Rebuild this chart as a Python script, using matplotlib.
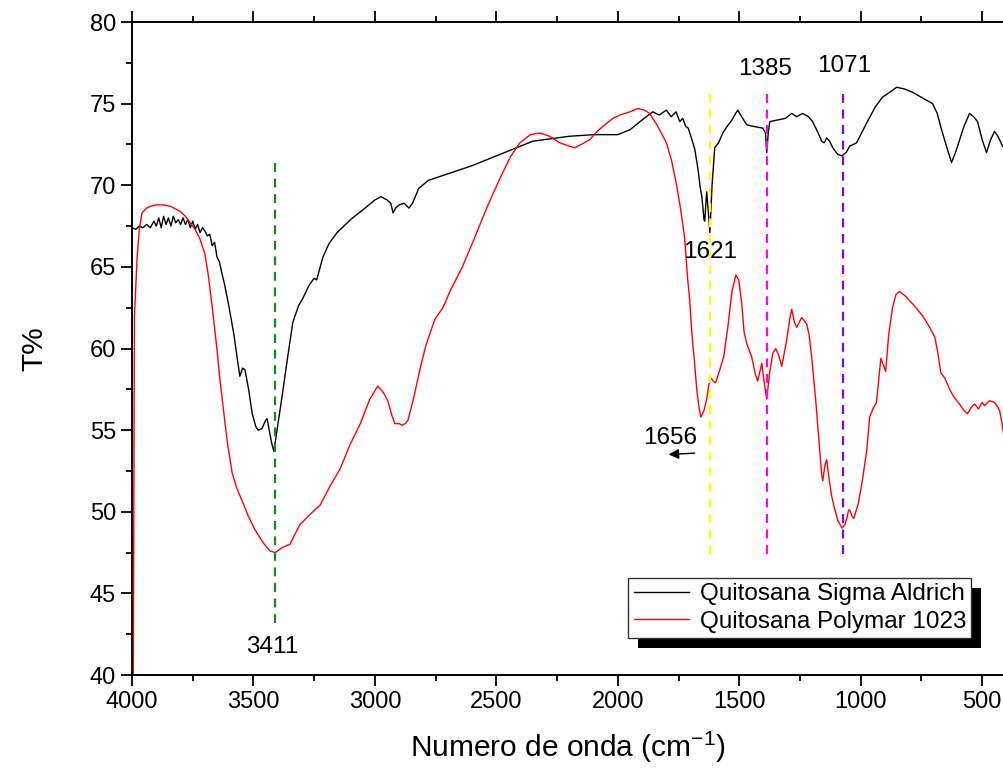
import matplotlib
matplotlib.use("Agg")
import matplotlib.pyplot as plt
from matplotlib.patches import Rectangle
from matplotlib.transforms import IdentityTransform
from matplotlib.ticker import MultipleLocator

plt.rcParams['font.family'] = ['Liberation Sans', 'DejaVu Sans']
plt.rcParams['mathtext.default'] = 'regular'

# Quitosana Sigma Aldrich (black)
sigma_x = [4000, 3985, 3970, 3955, 3940, 3925, 3910, 3900, 3890, 3880, 3870, 3860, 3850, 3840,
           3830, 3820, 3810, 3800, 3790, 3780, 3770, 3760, 3750, 3740, 3730, 3720, 3710, 3700,
           3690, 3680, 3670, 3660, 3650, 3640, 3630, 3620, 3600, 3580, 3565, 3556, 3545, 3535,
           3520, 3505, 3490, 3480, 3465, 3450, 3444, 3435, 3425, 3416, 3405, 3395, 3380, 3360,
           3338, 3315, 3296, 3270, 3250, 3240, 3225, 3214, 3190, 3156, 3100, 3049, 3000, 2975,
           2950, 2935, 2925, 2915, 2900, 2880, 2860, 2845, 2820, 2780, 2700, 2600, 2500, 2400,
           2350, 2300, 2200, 2100, 2000, 1950, 1900, 1856, 1830, 1800, 1780, 1760, 1745, 1733,
           1720, 1710, 1695, 1683, 1670, 1660, 1654, 1645, 1642, 1637, 1634, 1628, 1621, 1612,
           1601, 1585, 1568, 1550, 1530, 1515, 1506, 1490, 1469, 1440, 1403, 1392, 1387, 1380,
           1374, 1342, 1310, 1284, 1264, 1239, 1215, 1198, 1175, 1161, 1150, 1140, 1128, 1115,
           1095, 1078, 1060, 1045, 1030, 1017, 976, 940, 910, 880, 852, 820, 787, 740, 704, 685,
           667, 645, 626, 610, 601, 575, 552, 535, 519, 500, 482, 465, 449, 435, 416, 405]
sigma_y = [67.4, 67.3, 67.5, 67.4, 67.6, 67.4, 67.8, 67.5, 68.0, 67.4, 68.1, 67.6, 68.0, 67.5,
           68.1, 67.7, 67.9, 67.6, 68.0, 67.6, 67.9, 67.4, 67.8, 67.3, 67.6, 67.1, 67.4, 67.2,
           66.9, 67.0, 66.3, 66.5, 65.6, 65.3, 64.6, 64.0, 62.5, 60.8, 59.2, 58.3, 58.8, 58.7,
           57.5, 56.0, 55.2, 55.0, 55.1, 55.6, 55.7, 55.0, 54.2, 53.7, 54.8, 55.8, 57.3, 59.4,
           61.6, 62.6, 63.1, 63.9, 64.3, 64.2, 65.0, 65.6, 66.4, 67.1, 67.9, 68.5, 69.1, 69.3,
           69.1, 68.9, 68.3, 68.6, 68.8, 68.9, 68.6, 68.9, 69.8, 70.3, 70.7, 71.2, 71.8, 72.4,
           72.7, 72.8, 73.0, 73.1, 73.1, 73.4, 74.0, 74.5, 74.3, 74.6, 74.2, 74.5, 73.9, 74.1,
           73.6, 73.5, 72.8, 72.2, 71.0, 69.8, 69.3, 67.9, 67.8, 69.0, 69.6, 68.5, 67.1, 70.0,
           72.3, 72.6, 73.2, 73.6, 74.0, 74.4, 74.6, 74.2, 73.7, 73.6, 73.5, 73.2, 72.0, 73.3,
           73.9, 74.0, 74.1, 74.4, 74.2, 74.4, 74.2, 73.9, 73.2, 72.7, 72.6, 72.9, 72.7, 72.3,
           71.9, 71.8, 72.0, 72.4, 72.5, 72.6, 73.8, 74.8, 75.4, 75.7, 76.0, 75.9, 75.7, 75.3,
           75.0, 74.4, 73.4, 72.3, 71.4, 72.0, 72.4, 73.6, 74.4, 74.2, 73.9, 72.8, 72.0, 72.8,
           73.3, 73.0, 72.4, 72.3]

# Quitosana Polymar 1023 (red)
polymar_x = [3999, 3990, 3979, 3970, 3959, 3940, 3926, 3900, 3872, 3840, 3802, 3780, 3761, 3740,
             3720, 3700, 3687, 3667, 3650, 3638, 3620, 3609, 3588, 3570, 3556, 3520, 3494, 3460,
             3432, 3410, 3383, 3350, 3330, 3309, 3270, 3226, 3180, 3144, 3103, 3060, 3021, 2988,
             2965, 2947, 2930, 2918, 2900, 2889, 2875, 2864, 2840, 2815, 2790, 2753, 2720, 2691,
             2640, 2589, 2540, 2486, 2440, 2403, 2360, 2321, 2280, 2239, 2200, 2177, 2150, 2115,
             2085, 2054, 2020, 1992, 1950, 1918, 1890, 1869, 1835, 1800, 1780, 1759, 1740, 1725,
             1712, 1704, 1696, 1685, 1675, 1665, 1658, 1645, 1634, 1625, 1617, 1607, 1597, 1580,
             1564, 1547, 1530, 1514, 1502, 1490, 1480, 1469, 1449, 1435, 1424, 1415, 1407, 1398,
             1387, 1375, 1362, 1350, 1338, 1325, 1305, 1290, 1284, 1273, 1263, 1243, 1222, 1212,
             1202, 1185, 1169, 1160, 1156, 1148, 1140, 1130, 1120, 1111, 1095, 1077, 1065, 1057,
             1050, 1045, 1035, 1028, 1010, 992, 975, 963, 950, 935, 925, 917, 907, 897, 885, 869,
             855, 840, 815, 778, 745, 716, 695, 683, 670, 654, 634, 615, 593, 575, 560, 545, 531,
             515, 500, 490, 470, 449, 435, 428, 418, 410, 405]
polymar_y = [20.0, 62.0, 65.6, 67.3, 68.3, 68.6, 68.7, 68.8, 68.8, 68.7, 68.4, 68.1, 67.7, 67.3,
             66.7, 65.8, 64.6, 62.2, 59.9, 58.1, 55.8, 54.4, 52.4, 51.5, 51.0, 49.7, 48.9, 48.1,
             47.6, 47.5, 47.8, 48.0, 48.6, 49.2, 49.8, 50.4, 51.7, 52.6, 54.1, 55.4, 56.9, 57.7,
             57.3, 56.8, 55.9, 55.4, 55.4, 55.3, 55.4, 55.6, 57.0, 58.7, 60.2, 61.8, 62.5, 63.5,
             65.0, 66.8, 68.6, 70.4, 71.8, 72.6, 73.1, 73.2, 73.0, 72.6, 72.4, 72.3, 72.5, 72.8,
             73.3, 73.7, 74.1, 74.3, 74.5, 74.7, 74.6, 74.4, 73.6, 72.6, 71.6, 70.1, 68.4, 66.8,
             64.2, 63.0, 61.1, 59.3, 57.5, 56.3, 55.8, 56.2, 56.9, 57.8, 58.2, 58.0, 57.9, 58.7,
             59.5, 61.3, 63.5, 64.5, 64.2, 62.8, 61.0, 60.3, 59.5, 58.5, 58.0, 58.6, 59.1, 58.0,
             56.9, 58.5, 59.7, 60.0, 59.6, 58.9, 60.5, 62.0, 62.4, 61.6, 61.3, 61.9, 61.5, 60.8,
             59.5, 56.8, 53.8, 52.2, 51.9, 52.8, 53.2, 52.0, 51.0, 50.4, 49.5, 49.0, 49.2, 49.6,
             50.1, 50.1, 49.7, 49.6, 50.5, 52.0, 53.8, 55.8, 56.3, 56.7, 58.2, 59.4, 59.0, 58.6,
             60.8, 62.5, 63.3, 63.5, 63.2, 62.6, 62.0, 61.3, 60.7, 59.8, 58.5, 58.2, 57.5, 57.0,
             56.6, 56.2, 56.0, 56.4, 56.6, 56.3, 56.7, 56.5, 56.8, 56.7, 56.4, 56.2, 55.4, 54.6,
             54.0]

# marked bands
band_pos = [3411, 1621, 1385, 1071]
band_colors = ['#138a13', '#ffff00', '#ff00ff', '#8000ff']
band_top = [71.6, 76.0, 75.8, 75.8]
band_bottom = [43.2, 47.4, 47.4, 47.4]
band_labels = ['3411', '1621', '1385', '1071']
label_x = [3424, 1621, 1395, 1070]
label_y = [41.7, 65.9, 77.1, 77.3]

fig = plt.figure(figsize=(10.04, 7.75), dpi=100)
ax = fig.add_axes([0.1315, 0.129, 0.8685, 0.8426])

ax.plot(sigma_x, sigma_y, color='black', lw=1.0, label='Quitosana Sigma Aldrich')
ax.plot(polymar_x, polymar_y, color='red', lw=1.0, label='Quitosana Polymar 1023')

for pos, c, top, bot in zip(band_pos, band_colors, band_top, band_bottom):
    ax.plot([pos, pos], [bot, top], color=c, lw=1.6, ls=(0, (4, 3)))

for lab, lx, ly in zip(band_labels, label_x, label_y):
    ax.text(lx, ly, lab, fontsize=17.5, ha='center', va='center')

ax.text(1786, 54.5, '1656', fontsize=17.5, ha='center', va='center')
ax.annotate('', xy=(1802, 53.5), xytext=(1672, 53.6),
            arrowprops=dict(arrowstyle='-|>', color='black', lw=1.0, mutation_scale=15))

ax.set_xlim(4000, 410)
ax.set_ylim(40, 80)
ax.xaxis.set_major_locator(MultipleLocator(500))
ax.xaxis.set_minor_locator(MultipleLocator(250))
ax.yaxis.set_major_locator(MultipleLocator(5))
ax.yaxis.set_minor_locator(MultipleLocator(2.5))
ax.tick_params(which='major', direction='out', length=8, width=1.3, labelsize=17, top=True)
ax.tick_params(which='minor', direction='out', length=4.5, width=1.3, top=True)
ax.spines['right'].set_visible(False)
for s in ['left', 'bottom', 'top']:
    ax.spines[s].set_linewidth(1.4)

ax.set_xlabel('Numero de onda (cm$^{-1}$)', fontsize=21.5, labelpad=12)
ax.set_ylabel('T%', fontsize=21.5, labelpad=30)

leg = ax.legend(loc='upper left', bbox_to_anchor=(0.569, 0.1485), borderaxespad=0,
                fontsize=17.5, frameon=True, fancybox=False, edgecolor='#333333',
                handlelength=2.3, handletextpad=0.42, borderpad=0.22, labelspacing=0.22)
leg.get_frame().set_linewidth(1.0)
leg.get_frame().set_facecolor('white')
leg.get_frame().set_alpha(1)
leg.set_zorder(6)

# solid black drop shadow behind the legend
fig.canvas.draw()
bb = leg.get_window_extent()
shadow = Rectangle((bb.x0 + 10, bb.y0 - 10), bb.width, bb.height,
                   transform=IdentityTransform(), facecolor='black', edgecolor='none',
                   zorder=5, clip_on=False)
ax.add_patch(shadow)

fig.savefig('out.png', dpi=100)
